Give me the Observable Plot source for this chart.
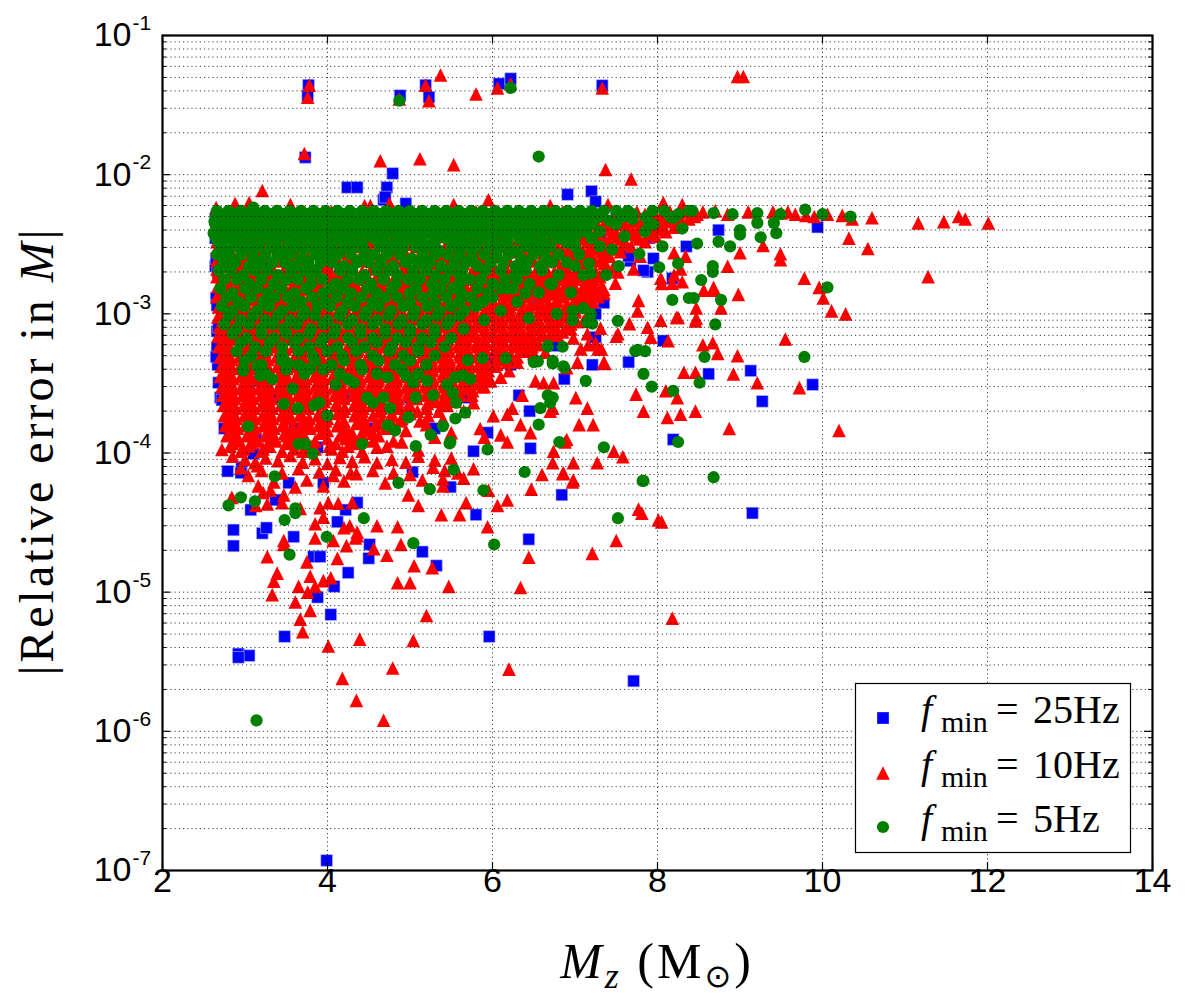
<!DOCTYPE html>
<html><head><meta charset="utf-8">
<script src="https://cdn.jsdelivr.net/npm/d3@7"></script>
<script src="https://cdn.jsdelivr.net/npm/@observablehq/plot@0.6"></script>
<style>body{margin:0;background:#fff}#chart{position:relative;width:1200px;height:1000px}</style>
</head><body><div id="chart"></div>
<script>
// ---- axis ticks ----
const xTicks = [2, 4, 6, 8, 10, 12, 14];
const xGridTicks = [4, 6, 8, 10, 12];
const yMajorTicks = [1e-7, 1e-6, 1e-5, 1e-4, 1e-3, 1e-2, 1e-1];
const yTickExponents = ["-7", "-6", "-5", "-4", "-3", "-2", "-1"];
const minorMantissas = [2, 3, 4, 5, 6, 7, 8, 9];
const legendLabels = ["25Hz", "10Hz", "5Hz"];

// ---- f_min = 25Hz (blue squares) ----
const blueRows = [
  [5.0e-3, [2.65, 3.3, 4.0, 4.7, 5.4, 6.1, 6.8, 7.5, 8.1]],
  [3.5e-3, [2.66, 3.5, 4.3, 5.1, 5.9, 6.6, 7.3, 7.9]],
  [2.2e-3, [2.64, 3.2, 4.0, 4.8, 5.6, 6.4, 7.1]],
  [1.3e-3, [2.65, 3.4, 4.2, 5.0, 5.8, 6.6]],
  [7.5e-4, [2.66, 3.3, 4.1, 4.9, 5.7, 6.3]],
  [4.3e-4, [2.67, 3.5, 4.4, 5.2, 6.0]],
  [2.5e-4, [2.7, 3.4, 4.2, 5.0, 5.7]],
  [1.5e-4, [2.75, 3.6, 4.5, 5.3]]
];
const blueSparse = [
  [2.64,4.8e-3],[2.64,3.5e-3],[2.65,2.5e-3],[2.67,2.0e-3],[2.66,1.15e-3],[2.68,8e-4],[2.66,5.7e-4],[2.65,4.9e-4],
  [2.68,3.2e-4],[2.72,2.4e-4],[3.07,1.45e-4],[3.13,1.23e-4],[3.88,1.1e-4],[3.18,3.3e-4],
  [3.77,4.4e-2],[3.76,3.7e-2],[3.73,1.33e-2],[4.88,3.7e-2],[5.19,4.4e-2],[5.23,3.6e-2],[6.08,4.5e-2],[6.22,4.9e-2],
  [7.33,4.37e-2],[4.24,8.1e-3],[4.36,8.1e-3],[4.79,1.02e-2],[4.72,8.1e-3],[4.68,6.6e-3],[4.95,6.2e-3],[4.7,6.9e-3],
  [6.91,7.2e-3],[7.2,7.6e-3],[7.25,6.4e-3],[9.94,4.2e-3],[8.35,3.05e-3],
  [7.67,2.4e-3],[7.95,2.5e-3],[8.74,4.0e-3],[7.88,2.0e-3],[7.83,2.05e-3],[8.18,1.8e-3],[7.18,1.55e-3],[7.35,1.2e-3],
  [7.25,1.0e-3],[7.25,6.8e-4],[8.07,6.4e-4],[7.65,4.5e-4],[7.21,4.3e-4],[8.62,3.7e-4],[9.13,3.9e-4],[9.88,3.1e-4],
  [9.27,2.35e-4],[8.19,1.25e-4],[6.87,3.4e-4],[6.79,5.9e-4],[9.15,3.7e-5],[6.32,2.6e-4],[6.45,2.0e-4],[5.94,1.4e-4],
  [6.88,1.42e-3],[7.15,1.65e-3],[6.56,1.15e-3],[6.44,6.2e-4],[6.22,4.3e-4],[6.0,4.8e-4],[7.65,2.6e-3],
  [2.79,7.4e-5],[2.96,7.9e-5],[2.95,7.2e-5],[2.86,2.8e-5],[2.86,2.15e-5],[3.21,2.65e-5],[3.26,2.9e-5],[3.59,2.5e-5],
  [3.83,1.8e-5],[3.91,1.8e-5],[4.25,1.38e-5],[4.08,1.1e-5],[4.04,6.9e-6],[3.48,4.8e-6],[2.92,3.6e-6],[3.05,3.5e-6],
  [2.92,3.4e-6],[5.96,4.8e-6],[7.71,2.3e-6],[6.44,2.4e-5],[6.84,5.0e-5],[5.8,3.6e-5],[5.15,1.95e-5],[5.32,1.55e-5],
  [4.5,1.75e-5],[4.51,2.2e-5],[3.88,9.2e-6],[4.36,4.4e-5],[4.22,3.9e-5],[4.12,3.2e-5],[3.1,9.9e-5],[3.07,3.9e-5],
  [3.37,4.6e-5],[3.53,6.1e-5],[3.95,6.1e-5],[5.03,7.3e-5],[6.46,1.08e-4],[5.49,5.7e-5],[5.77,1.03e-4],[3.99,1.18e-7]
];

// ---- f_min = 10Hz (red triangles) ----
const redRows = [
  [5.4e-3, [2.68,3.0,3.35,3.7,4.05,4.4,4.75,5.1,5.45,5.8,6.15,6.5,6.85,7.2,7.5,7.75,7.95,8.15,8.35,8.55]],
  [5.2e-3, [2.84,3.18,3.52,3.88,4.22,4.58,4.92,5.28,5.62,5.98,6.32,6.68,7.02,7.35,7.62,7.85,8.05,8.25,8.48]],
  [5.0e-3, [2.72,2.85,3.2,3.55,3.9,4.25,4.6,4.95,5.3,5.65,6.0,6.35,6.7,7.05,7.35,7.6,7.85,8.05,8.25,8.45]],
  [4.8e-3, [2.66,3.02,3.38,3.72,4.08,4.42,4.78,5.12,5.48,5.82,6.18,6.52,6.88,7.2,7.48,7.72,7.95,8.18,8.38]],
  [4.6e-3, [2.66,3.05,3.4,3.75,4.1,4.45,4.8,5.15,5.5,5.85,6.2,6.55,6.9,7.25,7.5,7.7,7.9,8.1,8.3]],
  [4.4e-3, [2.85,3.22,3.58,3.92,4.28,4.62,4.98,5.32,5.68,6.02,6.38,6.72,7.05,7.35,7.58,7.8,8.02,8.25]],
  [4.2e-3, [2.7,2.9,3.25,3.6,3.95,4.3,4.65,5.0,5.35,5.7,6.05,6.4,6.75,7.1,7.4,7.62,7.82,8.0,8.2]],
  [4.05e-3, [2.67,3.0,3.35,3.7,4.05,4.4,4.75,5.1,5.45,5.8,6.15,6.5,6.85,7.15,7.38,7.6,7.82,8.05]],
  [3.9e-3, [2.67,3.1,3.45,3.8,4.15,4.5,4.85,5.2,5.55,5.9,6.25,6.6,6.95,7.25,7.48,7.7,7.92,8.1]],
  [3.75e-3, [2.88,3.2,3.55,3.9,4.25,4.6,4.95,5.3,5.65,6.0,6.35,6.7,7.0,7.25,7.45,7.65,7.88]],
  [3.6e-3, [2.71,2.95,3.3,3.65,4.0,4.35,4.7,5.05,5.4,5.75,6.1,6.45,6.8,7.05,7.3,7.52,7.75,7.98]],
  [3.45e-3, [2.68,3.05,3.4,3.75,4.1,4.45,4.8,5.15,5.5,5.85,6.2,6.55,6.85,7.1,7.32,7.55,7.78]],
  [3.3e-3, [2.66,3.15,3.5,3.85,4.2,4.55,4.9,5.25,5.6,5.95,6.3,6.62,6.9,7.15,7.38,7.6,7.85]],
  [3.17e-3, [2.86,3.22,3.58,3.92,4.28,4.62,4.98,5.32,5.68,6.02,6.38,6.7,6.95,7.2,7.42,7.62]],
  [3.05e-3, [2.69,2.98,3.33,3.68,4.03,4.38,4.73,5.08,5.43,5.78,6.13,6.48,6.75,7.0,7.22,7.45,7.68]],
  [2.92e-3, [2.66,3.05,3.4,3.75,4.1,4.45,4.8,5.15,5.5,5.85,6.2,6.52,6.8,7.05,7.28,7.5]],
  [2.8e-3, [2.67,3.12,3.47,3.82,4.17,4.52,4.87,5.22,5.57,5.92,6.27,6.58,6.85,7.1,7.32,7.55]],
  [2.7e-3, [2.85,3.2,3.55,3.9,4.25,4.6,4.95,5.3,5.65,6.0,6.35,6.62,6.9,7.15,7.38]],
  [2.6e-3, [2.72,2.92,3.27,3.62,3.97,4.32,4.67,5.02,5.37,5.72,6.07,6.4,6.68,6.95,7.18,7.42]],
  [2.5e-3, [2.67,3.02,3.38,3.72,4.08,4.42,4.78,5.12,5.48,5.82,6.15,6.45,6.72,7.0,7.22]],
  [2.4e-3, [2.66,3.08,3.43,3.78,4.13,4.48,4.83,5.18,5.53,5.88,6.2,6.5,6.78,7.05,7.3]],
  [2.3e-3, [2.84,3.2,3.55,3.9,4.25,4.6,4.95,5.3,5.65,6.0,6.3,6.6,6.85,7.12,7.35]],
  [2.2e-3, [2.7,2.96,3.2,3.5,3.75,4.0,4.3,4.55,4.8,5.1,5.35,5.6,5.9,6.15,6.38,6.62,6.88,7.12,7.38]],
  [2.1e-3, [2.66,2.95,3.22,3.48,3.75,4.02,4.28,4.55,4.82,5.08,5.35,5.62,5.88,6.15,6.4,6.65,6.9,7.15,7.4]],
  [2.0e-3, [2.68,2.85,3.08,3.35,3.62,3.88,4.15,4.42,4.68,4.95,5.22,5.48,5.75,6.02,6.28,6.52,6.75,7.0,7.25]],
  [1.92e-3, [2.71,2.93,3.15,3.37,3.59,3.81,4.03,4.25,4.47,4.69,4.91,5.13,5.35,5.57,5.79,6.01,6.23,6.45,6.67,6.89,7.11]],
  [1.85e-3, [2.66,2.86,3.1,3.3,3.55,3.74,3.97,4.2,4.4,4.63,4.85,5.06,5.3,5.5,5.73,5.95,6.17,6.38,6.6,6.83,7.05,7.3]],
  [1.77e-3, [2.82,3.04,3.26,3.48,3.7,3.92,4.14,4.36,4.58,4.8,5.02,5.24,5.46,5.68,5.9,6.12,6.34,6.56,6.78,7.0,7.22]],
  [1.7e-3, [2.76,2.98,3.2,3.42,3.64,3.86,4.08,4.3,4.52,4.74,4.96,5.18,5.4,5.62,5.84,6.06,6.28,6.5,6.72,6.94,7.18]],
  [1.63e-3, [2.72,2.95,3.17,3.39,3.61,3.83,4.05,4.27,4.49,4.71,4.93,5.15,5.37,5.59,5.81,6.03,6.25,6.47,6.69,6.91,7.13]],
  [1.57e-3, [2.67,2.9,3.13,3.33,3.57,3.77,4.01,4.21,4.45,4.65,4.89,5.09,5.33,5.53,5.77,5.97,6.21,6.41,6.63,6.87,7.1,7.32]],
  [1.51e-3, [2.83,3.05,3.27,3.49,3.71,3.93,4.15,4.37,4.59,4.81,5.03,5.25,5.47,5.69,5.91,6.13,6.35,6.57,6.79,7.01,7.25]],
  [1.45e-3, [2.78,3.0,3.22,3.45,3.66,3.88,4.11,4.32,4.54,4.77,4.98,5.2,5.43,5.64,5.86,6.09,6.3,6.52,6.75,6.97,7.2]],
  [1.39e-3, [2.71,2.94,3.16,3.38,3.6,3.82,4.04,4.26,4.48,4.7,4.92,5.14,5.36,5.58,5.8,6.02,6.24,6.46,6.68,6.9,7.12]],
  [1.33e-3, [2.66,2.88,3.11,3.34,3.55,3.78,3.99,4.22,4.43,4.66,4.87,5.1,5.31,5.54,5.75,5.98,6.19,6.42,6.64,6.86,7.08,7.28]],
  [1.27e-3, [2.82,3.04,3.26,3.48,3.7,3.92,4.14,4.36,4.58,4.8,5.02,5.24,5.46,5.68,5.9,6.12,6.34,6.56,6.78,7.0,7.2]],
  [1.22e-3, [2.75,2.99,3.21,3.44,3.66,3.89,4.1,4.33,4.55,4.78,4.99,5.22,5.44,5.67,5.88,6.11,6.33,6.55,6.78,6.99,7.22]],
  [1.17e-3, [2.72,2.94,3.16,3.38,3.6,3.82,4.04,4.26,4.48,4.7,4.92,5.14,5.36,5.58,5.8,6.02,6.24,6.46,6.68,6.9]],
  [1.12e-3, [2.68,2.9,3.12,3.33,3.56,3.77,4.0,4.21,4.44,4.66,4.88,5.11,5.32,5.55,5.77,5.99,6.21,6.44,6.66,6.9,7.05]],
  [1.07e-3, [2.83,3.05,3.27,3.49,3.71,3.93,4.15,4.37,4.59,4.81,5.03,5.25,5.47,5.69,5.91,6.13,6.35,6.57,6.79,7.0]],
  [1.03e-3, [2.77,3.0,3.23,3.45,3.67,3.9,4.12,4.34,4.57,4.79,5.01,5.23,5.46,5.68,5.9,6.12,6.35,6.57,6.8,7.0]],
  [9.9e-4, [2.71,2.93,3.15,3.37,3.59,3.81,4.03,4.25,4.47,4.69,4.91,5.13,5.35,5.57,5.79,6.01,6.23,6.45,6.67,6.88]],
  [9.5e-4, [2.67,2.89,3.11,3.34,3.56,3.79,4.01,4.23,4.45,4.68,4.9,5.12,5.34,5.57,5.79,6.01,6.24,6.46,6.69,6.92]],
  [9.1e-4, [2.82,3.04,3.26,3.48,3.7,3.92,4.14,4.36,4.58,4.8,5.02,5.24,5.46,5.68,5.9,6.12,6.34,6.56,6.8]],
  [8.8e-4, [2.76,2.98,3.21,3.43,3.66,3.88,4.1,4.33,4.55,4.77,4.99,5.22,5.44,5.66,5.89,6.11,6.33,6.56,6.78,7.02]],
  [8.45e-4, [2.72,2.94,3.16,3.38,3.6,3.82,4.04,4.26,4.48,4.7,4.92,5.14,5.36,5.58,5.8,6.02,6.24,6.46,6.68,6.95]],
  [8.1e-4, [2.69,2.91,3.13,3.36,3.58,3.8,4.03,4.25,4.47,4.7,4.92,5.14,5.37,5.59,5.81,6.04,6.26,6.48,6.7,6.9]],
  [7.75e-4, [2.83,3.05,3.27,3.49,3.71,3.93,4.15,4.37,4.59,4.81,5.03,5.25,5.47,5.69,5.91,6.13,6.35,6.57,6.78]],
  [7.4e-4, [2.78,3.01,3.23,3.46,3.68,3.9,4.13,4.35,4.57,4.8,5.02,5.25,5.47,5.69,5.92,6.14,6.36,6.6,6.85]],
  [7.15e-4, [2.71,2.93,3.15,3.37,3.59,3.81,4.03,4.25,4.47,4.69,4.91,5.13,5.35,5.57,5.79,6.01,6.23,6.45,6.7]],
  [6.9e-4, [2.67,2.9,3.12,3.35,3.57,3.79,4.02,4.24,4.46,4.69,4.91,5.13,5.36,5.58,5.8,6.03,6.25,6.47]],
  [6.6e-4, [2.82,3.04,3.26,3.48,3.7,3.92,4.14,4.36,4.58,4.8,5.02,5.24,5.46,5.68,5.9,6.12,6.34,6.5]],
  [6.3e-4, [2.77,2.99,3.22,3.44,3.67,3.89,4.11,4.34,4.56,4.78,5.01,5.23,5.45,5.68,5.9,6.12,6.35,6.55]],
  [6.05e-4, [2.72,2.94,3.16,3.38,3.6,3.82,4.04,4.26,4.48,4.7,4.92,5.14,5.36,5.58,5.8,6.02,6.24,6.42]],
  [5.8e-4, [2.68,2.92,3.14,3.37,3.59,3.81,4.04,4.26,4.48,4.71,4.93,5.15,5.38,5.6,5.82,6.05,6.27,6.48]],
  [5.6e-4, [2.83,3.05,3.27,3.49,3.71,3.93,4.15,4.37,4.59,4.81,5.03,5.25,5.47,5.69,5.91,6.13,6.35]],
  [5.4e-4, [2.79,3.02,3.24,3.46,3.69,3.91,4.13,4.36,4.58,4.8,5.03,5.25,5.47,5.7,5.92,6.14,6.4]],
  [5.15e-4, [2.74,2.96,3.18,3.4,3.62,3.84,4.06,4.28,4.5,4.72,4.94,5.16,5.38,5.6,5.82,6.04,6.22]],
  [4.9e-4, [2.7,2.93,3.15,3.38,3.6,3.82,4.05,4.27,4.49,4.72,4.94,5.16,5.39,5.61,5.83,6.06,6.3]],
  [4.7e-4, [2.84,3.06,3.28,3.5,3.72,3.94,4.16,4.38,4.6,4.82,5.04,5.26,5.48,5.7,5.92,6.12]],
  [4.5e-4, [2.8,3.03,3.25,3.47,3.7,3.92,4.14,4.37,4.59,4.81,5.04,5.26,5.48,5.71,5.93,6.18]],
  [4.35e-4, [2.75,2.97,3.19,3.41,3.63,3.85,4.07,4.29,4.51,4.73,4.95,5.17,5.39,5.61,5.83,6.05]],
  [4.2e-4, [2.71,2.94,3.16,3.39,3.61,3.83,4.06,4.28,4.5,4.73,4.95,5.17,5.4,5.62,5.84,6.02]],
  [4.05e-4, [2.85,3.07,3.29,3.51,3.73,3.95,4.17,4.39,4.61,4.83,5.05,5.27,5.49,5.71,5.93]],
  [3.9e-4, [2.79,3.03,3.26,3.48,3.71,3.93,4.15,4.38,4.6,4.82,5.05,5.27,5.49,5.72,5.95]],
  [3.72e-4, [2.76,2.98,3.2,3.42,3.64,3.86,4.08,4.3,4.52,4.74,4.96,5.18,5.4,5.62,5.84]],
  [3.55e-4, [2.7,2.95,3.17,3.4,3.62,3.84,4.07,4.29,4.51,4.74,4.96,5.18,5.41,5.63,5.86]],
  [3.42e-4, [2.86,3.08,3.3,3.52,3.74,3.96,4.18,4.4,4.62,4.84,5.06,5.28,5.5,5.72,5.92]],
  [3.3e-4, [2.81,3.04,3.27,3.49,3.72,3.94,4.16,4.39,4.61,4.83,5.06,5.28,5.5,5.75,5.98]],
  [3.15e-4, [2.77,2.99,3.21,3.43,3.65,3.87,4.09,4.31,4.53,4.75,4.97,5.19,5.41,5.63,5.85]],
  [3.0e-4, [2.72,2.96,3.18,3.41,3.63,3.85,4.08,4.3,4.52,4.75,4.97,5.19,5.42,5.64,5.88]],
  [2.9e-4, [2.87,3.09,3.31,3.53,3.75,3.97,4.19,4.41,4.63,4.85,5.07,5.29,5.51,5.7]],
  [2.8e-4, [2.82,3.05,3.28,3.5,3.73,3.95,4.17,4.4,4.62,4.84,5.07,5.29,5.52,5.76]],
  [2.7e-4, [2.78,3.0,3.22,3.44,3.66,3.88,4.1,4.32,4.54,4.76,4.98,5.2,5.42,5.6]],
  [2.6e-4, [2.73,2.97,3.19,3.42,3.64,3.86,4.09,4.31,4.53,4.76,4.98,5.2,5.43,5.62]],
  [2.47e-4, [2.88,3.1,3.32,3.54,3.76,3.98,4.2,4.42,4.64,4.86,5.08,5.3,5.5]],
  [2.35e-4, [2.83,3.06,3.29,3.51,3.74,3.96,4.41,4.63,4.85,5.3,5.55]],
  [2.27e-4, [2.79,3.01,3.23,3.45,3.67,3.89,4.11,4.33,4.55,4.77,4.99,5.21,5.4]],
  [2.2e-4, [2.74,2.98,3.2,3.43,3.65,4.1,4.32,4.54,4.77,4.99,5.45]],
  [2.1e-4, [2.89,3.11,3.33,3.55,3.77,4.21,4.43,4.65,4.87,5.2]],
  [2.0e-4, [2.84,3.07,3.3,3.52,3.97,4.19,4.42,4.64,5.09,5.35]],
  [1.92e-4, [2.8,3.02,3.24,3.46,3.68,3.9,4.12,4.34,4.78,5.0]],
  [1.85e-4, [2.75,2.99,3.21,3.44,3.66,3.88,4.33,4.55,4.78,5.22]],
  [1.77e-4, [2.9,3.12,3.34,3.56,3.78,4.0,4.44,4.66,4.9]],
  [1.7e-4, [2.85,3.08,3.31,3.76,3.98,4.2,4.43,4.88,5.12]],
  [1.63e-4, [2.81,3.03,3.25,3.47,3.69,3.91,4.13,4.35,4.6]],
  [1.57e-4, [2.76,3.0,3.22,3.45,3.67,3.89,4.12,4.57,4.8]],
  [1.51e-4, [2.91,3.13,3.35,3.57,3.79,4.23,4.45,4.7]],
  [1.45e-4, [2.86,3.09,3.32,3.6,4.0,4.22,4.5,4.95]],
  [1.39e-4, [2.82,3.04,3.26,3.48,3.7,3.92,4.3,4.55]],
  [1.33e-4, [2.78,3.02,3.25,3.5,3.72,4.15,4.4,4.62]],
  [1.27e-4, [2.92,3.14,3.36,3.58,4.0,4.22,4.44]],
  [1.22e-4, [2.9,3.15,3.38,3.62,3.85,4.3,4.55,4.8]],
  [1.17e-4, [2.85,3.08,3.28,3.5,3.72,4.1,4.35]],
  [1.12e-4, [2.82,3.05,3.3,3.8,4.02,4.25,4.72]],
  [1.07e-4, [2.98,3.22,3.6,3.85,4.05]],
  [1.03e-4, [2.95,3.2,3.45,3.7,4.18,4.42]]
];
const redSparse = [
  [3.78,4.4e-2],[3.76,3.6e-2],[3.72,1.42e-2],[3.21,7.7e-3],[4.87,3.5e-2],[5.37,5.2e-2],[5.19,4.4e-2],[5.23,3.4e-2],
  [5.8,3.8e-2],[4.64,1.26e-2],[5.12,1.3e-2],[5.53,1.18e-2],[5.95,6.6e-3],[6.06,4.2e-2],[6.22,4.5e-2],[7.33,4.2e-2],
  [8.97,5.07e-2],[9.04,5.07e-2],[7.37,1.09e-2],[7.68,9.3e-3],[8.07,6.3e-3],
  [2.65,5.8e-3],[2.88,6.2e-3],[3.05,6.3e-3],[3.55,6.1e-3],[4.45,6.0e-3],[4.52,6.0e-3],[4.75,6.2e-3],[5.53,6.1e-3],
  [6.7,6.0e-3],[7.4,6.1e-3],[8.3,6.1e-3],
  [10.6,4.9e-3],[11.16,4.5e-3],[11.47,4.6e-3],[11.65,5.0e-3],[11.73,4.8e-3],[12.01,4.5e-3],[11.28,1.85e-3],
  [10.24,5.1e-3],[10.36,4.8e-3],[10.32,3.5e-3],[10.55,2.95e-3],[10.06,5.2e-3],[9.9,5.0e-3],[9.8,5.1e-3],[9.67,5.2e-3],
  [9.49,2.7e-3],[9.49,2.45e-3],[9.78,1.8e-3],[9.96,1.55e-3],[10.01,1.3e-3],[10.11,1.05e-3],[10.28,1.0e-3],[9.55,6.6e-4],
  [9.72,2.95e-4],[10.2,1.45e-4],[8.87,1.5e-4],[9.21,3.2e-4],[8.97,5.0e-4],[8.92,3.7e-4],[9.4,5.4e-3],[9.5,5.3e-3],
  [9.58,5.4e-3],[8.7,5.5e-3],[8.85,5.2e-3],[9.1,5.4e-3],[9.28,3.1e-3],[9.0,2.75e-3],[8.85,2.2e-3],[8.68,1.48e-3],
  [8.77,1.1e-3],[8.47,1.1e-3],[8.47,9.3e-4],[8.3,1.7e-3],[8.05,1.65e-3],[8.25,9.4e-4],[8.04,9.0e-4],[8.13,6.4e-4],
  [7.77,1.25e-3],[7.76,1.05e-3],[7.88,8.0e-4],[7.92,6.8e-4],[7.66,8.5e-4],[7.52,7.2e-4],[8.55,6.0e-4],[8.67,6.2e-4],
  [8.73,5.2e-4],[8.32,3.8e-4],[8.46,3.8e-4],[8.1,2.8e-4],[8.24,2.5e-4],[7.74,2.65e-4],[7.83,2.0e-4],[8.12,1.8e-4],
  [8.28,1.9e-4],[8.46,2.0e-4],[7.01,2.5e-4],[7.15,2.1e-4],[7.05,1.6e-4],[7.22,1.6e-4],[6.88,1.2e-4],
  [8.98,1.38e-3],[8.56,1.48e-3],[8.68,1.55e-3],[8.23,9.4e-4],[8.46,8.9e-4],[8.18,1.66e-3],[7.49,1.66e-3],[7.35,1.4e-3],
  [7.32,5.6e-4],[7.16,6.0e-4],[7.07,5.6e-4],[7.35,4.5e-4],[7.03,4.5e-4],[6.9,4.1e-4],[6.74,3.2e-4],[6.62,3.2e-4],
  [6.52,3.3e-4],[6.73,2.1e-4],[6.7,2.0e-4],[6.36,2.6e-4],[6.24,2.1e-4],[6.18,1.9e-4],[6.34,1.6e-4],[6.46,1.4e-4],
  [6.1,1.35e-4],[6.18,1.2e-4],[5.85,1.5e-4],[5.9,1.3e-4],[6.01,1.85e-4],[5.77,2.3e-4],[6.9,1.25e-4],[6.64,5.3e-4],
  [6.5,5.2e-4],[6.79,7.0e-4],[6.98,6.7e-4],[7.15,7.2e-4],[7.31,7.9e-4],[7.5,6.9e-4],[7.28,5.6e-4],[7.36,4.4e-4],
  [7.25,6.2e-4],[7.35,1.5e-3],[7.52,2.0e-3],[7.47,2.2e-3],[7.71,2.1e-3],[7.79,2.6e-3],[8.04,1.8e-3],[8.2,1.9e-3],
  [8.28,2.1e-3],[8.34,2.6e-3],[8.2,2.75e-3],
  [6.74,1.03e-4],[6.73,8.5e-5],[6.98,8.5e-5],[7.27,8.5e-5],[7.47,1.03e-4],[7.58,9.4e-5],[6.85,7.1e-5],[6.97,6.2e-5],
  [6.6,7.0e-5],[7.81,3.7e-5],[8.05,3.2e-5],[8.18,6.5e-6],
  [2.72,1.06e-4],[3.33,9.6e-6],[3.27,1.8e-5],[3.39,1.37e-5],[3.35,1.2e-5],[3.47,2.35e-5],[3.47,2.2e-5],[3.61,8.5e-6],
  [3.67,6.4e-6],[3.7,5.2e-6],[3.79,7.4e-6],[3.65,1.1e-5],[3.76,1.0e-5],[3.79,1.3e-5],[3.95,1.21e-5],[4.04,1.27e-5],
  [3.85,1.1e-5],[3.75,1.65e-5],[4.01,4.1e-6],[4.18,2.4e-6],[4.35,1.67e-6],[4.68,1.2e-6],[4.39,4.6e-6],[4.79,2.85e-6],
  [5.04,4.5e-6],[5.2,6.8e-6],[6.2,2.8e-6],[4.85,1.17e-5],[5.0,1.17e-5],[5.27,1.5e-5],[5.47,1.1e-5],[6.34,1.08e-5],
  [5.05,1.55e-5],[4.6,3.0e-5],[4.85,2.95e-5],[4.89,2.2e-5],[4.72,1.84e-5],[4.56,2.05e-5],[4.23,2.16e-5],[4.12,1.75e-5],
  [4.34,2.45e-5],[4.2,2.9e-5],[4.27,3.0e-5],[4.07,2.35e-5],[3.85,2.45e-5],[3.85,3.1e-5],[3.91,4.05e-5],[3.95,3.45e-5],
  [4.01,4.4e-5],[4.13,4.35e-5],[4.3,4.4e-5],[5.38,3.6e-5],[5.6,3.6e-5],[5.68,4.4e-5],[5.94,2.95e-5],[6.06,4.2e-5],
  [6.18,4.6e-5],[6.44,1.78e-5],[7.21,1.9e-5],[7.5,2.35e-5],[7.77,3.95e-5],[8.01,3.3e-5],[6.47,5.5e-5],[6.86,7.2e-5],
  [6.98,6.4e-5],[5.77,7.7e-5],[5.95,5.4e-5],[5.4,5.8e-5],[5.4,6.5e-5],[5.42,7.5e-5],[5.58,7.2e-5],[4.98,5.0e-5],
  [5.1,4.2e-5],[5.28,7.9e-5],[4.07,6.9e-5],[3.95,5.8e-5],[4.28,7.2e-5],[3.61,5.7e-5],[3.47,5.0e-5],[3.31,5.4e-5],
  [3.22,5.2e-5],[3.16,5.8e-5],[3.04,6.9e-5],[3.15,8.1e-5],[2.84,4.8e-5],[3.13,4.2e-5],[3.27,4.3e-5],[3.45,4.4e-5],
  [3.67,4.0e-5],[4.36,2.55e-5],[4.36,2.7e-5],
  [2.85,9.5e-5],[3.0,9.0e-5],[3.12,8.5e-5],[3.25,9.2e-5],[3.4,8.8e-5],[3.55,9.6e-5],[3.7,8.6e-5],[3.85,9.1e-5],
  [4.0,8.4e-5],[4.15,9.3e-5],[4.3,8.7e-5],[4.45,9.4e-5],[4.6,8.5e-5],[4.78,9.0e-5],[4.95,8.6e-5],[5.1,9.5e-5],
  [5.3,8.9e-5],[5.5,9.2e-5],[2.95,7.8e-5],[3.2,7.5e-5],[3.45,7.2e-5],[3.65,7.7e-5],[3.9,7.3e-5],[4.1,7.6e-5],
  [4.35,7.1e-5],[4.55,7.5e-5],[4.8,7.2e-5],[5.0,7.0e-5],[3.35,6.2e-5],[3.75,6.4e-5],[4.2,6.3e-5],[4.7,6.1e-5],
  [5.15,6.4e-5],[5.65,6.6e-5],[4.6,1.1e-4],[4.9,1.2e-4],[5.1,1.05e-4],[5.3,1.3e-4],[5.5,1.4e-4],[5.2,1.6e-4],
  [5.4,1.75e-4],[5.65,2.0e-4],[5.75,2.6e-4],[5.9,3.0e-4],[6.1,3.5e-4],[6.2,3.9e-4],[6.3,4.5e-4],[6.55,6.0e-4],
  [6.6,7.0e-4],[6.95,7.8e-4],[7.1,8.8e-4],[7.15,9.8e-4]
];

// ---- f_min = 5Hz (green circles) ----
const greenRows = [
  [5.5e-3, [2.66,2.8,2.95,3.1,3.24,3.39,3.54,3.68,3.83,3.98,4.12,4.27,4.42,4.56,4.71,4.86,5.0,5.15,5.3,5.44,5.59,5.74,5.88,6.03,6.18,6.32,6.47,6.62,6.76,6.91,7.06,7.2,7.35,7.5,7.64,7.94,8.08,8.38]],
  [5.2e-3, [2.7,2.87,3.02,3.17,3.31,3.46,3.61,3.76,3.9,4.05,4.2,4.34,4.49,4.64,4.78,4.93,5.08,5.22,5.37,5.52,5.66,5.81,5.96,6.1,6.25,6.4,6.54,6.69,6.84,6.98,7.13,7.3,7.7,8.25]],
  [4.95e-3, [2.73,2.88,3.02,3.17,3.32,3.46,3.61,3.76,3.9,4.05,4.2,4.34,4.49,4.64,4.78,4.93,5.08,5.22,5.37,5.52,5.66,5.81,5.96,6.1,6.25,6.4,6.54,6.69,6.84,6.98,7.13,7.28,7.57,7.86,8.16]],
  [4.65e-3, [2.64,2.8,2.95,3.1,3.24,3.39,3.54,3.68,3.83,3.98,4.12,4.27,4.42,4.56,4.71,4.86,5.0,5.15,5.3,5.44,5.59,5.74,5.88,6.03,6.18,6.32,6.47,6.62,6.76,6.91,7.06,7.22,7.42]],
  [4.4e-3, [2.64,2.79,2.93,3.08,3.23,3.37,3.52,3.67,3.81,3.96,4.11,4.25,4.4,4.55,4.69,4.84,4.99,5.13,5.28,5.43,5.57,5.72,5.87,6.01,6.16,6.31,6.45,6.6,6.75,6.89,7.04,7.19,7.5,7.95]],
  [4.15e-3, [2.72,2.87,3.01,3.16,3.31,3.45,3.6,3.75,3.89,4.04,4.19,4.33,4.48,4.63,4.77,4.92,5.07,5.21,5.36,5.51,5.65,5.8,5.95,6.09,6.24,6.39,6.53,6.68,6.83,6.97,7.15]],
  [3.9e-3, [2.7,2.85,3.0,3.14,3.29,3.44,3.58,3.73,3.88,4.02,4.17,4.32,4.46,4.61,4.76,4.9,5.05,5.2,5.34,5.49,5.64,5.78,5.93,6.08,6.22,6.37,6.52,6.66,6.81,6.96,7.1,7.3,7.85]],
  [3.7e-3, [2.64,2.78,2.93,3.07,3.22,3.51,3.66,3.81,3.95,4.1,4.25,4.39,4.54,4.84,4.98,5.13,5.28,5.42,5.57,5.86,6.01,6.16,6.3,6.6,6.74,6.9]],
  [3.48e-3, [2.65,2.8,2.94,3.09,3.24,3.38,3.53,3.68,3.82,3.97,4.12,4.26,4.41,4.56,4.7,4.85,5.0,5.14,5.29,5.44,5.58,5.73,5.88,6.02,6.17,6.32,6.46,6.61,6.8,7.0,7.2]],
  [3.25e-3, [2.68,2.95,3.1,3.39,3.54,3.83,3.97,4.27,4.42,4.71,4.86,5.15,5.3,5.59,5.73,6.03,6.18,6.47,6.62,6.9]],
  [3.05e-3, [2.72,2.87,3.02,3.16,3.31,3.6,3.75,3.9,4.04,4.19,4.34,4.63,4.78,4.92,5.07,5.22,5.51,5.66,5.8,5.95,6.1,6.4,6.55,6.7,7.0,7.3]],
  [2.85e-3, [2.8,3.1,3.45,3.7,4.0,4.45,4.9,5.35,5.75,6.28,6.62]],
  [2.67e-3, [2.66,2.81,2.96,3.25,3.4,3.55,3.84,3.98,4.13,4.28,4.57,4.72,4.87,5.16,5.31,5.45,5.6,5.9,6.05,6.2,6.5,6.8,7.05]],
  [2.5e-3, [2.74,3.1,3.68,4.42,5.02,5.75,6.35,6.65]],
  [2.34e-3, [2.74,2.88,3.18,3.33,3.48,3.77,3.92,4.06,4.36,4.5,4.65,4.95,5.1,5.24,5.54,5.69,5.98,6.13,6.42,6.72,6.9]],
  [2.2e-3, [2.8,3.05,3.6,4.2,4.8,5.38,5.82,6.28,6.58,7.0]],
  [2.05e-3, [2.68,2.83,3.12,3.27,3.56,3.71,3.86,4.15,4.3,4.6,4.75,5.04,5.19,5.48,5.63,5.92,6.1,6.4,6.6]],
  [1.9e-3, [2.98,3.4,3.8,4.45,4.85,5.3,5.6,6.28,6.8,7.1]],
  [1.77e-3, [2.75,2.9,3.2,3.5,3.64,3.94,4.24,4.38,4.68,4.98,5.12,5.42,5.72,5.86,6.15,6.3]],
  [1.64e-3, [3.05,3.35,3.8,4.1,4.53,4.83,5.27,5.6,6.0,6.45,6.7]],
  [1.52e-3, [2.7,3.0,3.15,3.44,3.74,4.03,4.18,4.48,4.78,5.07,5.37,5.52,5.82,6.1,6.25]],
  [1.41e-3, [2.85,3.28,3.6,3.95,4.28,4.6,5.0,5.28,5.62,5.95,6.4]],
  [1.31e-3, [2.78,3.07,3.36,3.52,3.82,4.11,4.41,4.7,4.85,5.15,5.44,5.74,6.0]],
  [1.22e-3, [2.92,3.22,3.68,3.97,4.25,4.55,5.0,5.3,5.6,5.88,6.3]],
  [1.13e-3, [2.72,2.99,3.29,3.58,3.88,4.03,4.33,4.62,4.92,5.21,5.5,5.8]],
  [1.05e-3, [2.85,3.15,3.45,3.72,4.18,4.48,4.77,5.06,5.36,5.66,6.1]],
  [9.7e-4, [2.8,3.1,3.4,3.7,3.85,4.15,4.45,4.74,5.04,5.33,5.6]],
  [9.0e-4, [2.95,3.25,3.55,4.0,4.3,4.6,4.9,5.2,5.48,5.9]],
  [8.4e-4, [2.75,3.05,3.34,3.63,3.95,4.25,4.55,4.86,5.15,5.45]],
  [7.8e-4, [2.9,3.2,3.48,3.8,4.1,4.4,4.7,5.0,5.3,5.65]],
  [7.2e-4, [2.85,3.2,3.5,3.78,4.08,4.4,4.7,5.0,5.3]],
  [6.7e-4, [3.02,3.35,3.65,3.95,4.25,4.55,4.85,5.15,5.5]],
  [6.2e-4, [2.95,3.3,3.6,3.92,4.3,4.6,4.95,5.25]],
  [5.8e-4, [3.12,3.45,3.78,4.12,4.45,4.78,5.1,5.42]],
  [5.36e-4, [2.9,3.25,3.65,4.0,4.35,4.75,5.1]],
  [5.0e-4, [3.08,3.45,3.82,4.18,4.55,4.92,5.3]],
  [4.6e-4, [3.0,3.45,3.85,4.2,4.62,5.0]],
  [4.3e-4, [3.2,3.65,4.05,4.4,4.82,5.2]],
  [3.98e-4, [2.98,3.5,3.95,4.42,4.9]],
  [3.7e-4, [3.25,3.72,4.15,4.6,5.1]]
];
const greenSparse = [
  [4.87,3.4e-2],[6.22,4.2e-2],[6.56,1.35e-2],[3.1,5.8e-3],[2.62,3.8e-3],[2.63,4.6e-3],[2.65,5.0e-3],
  [10.06,1.55e-3],[9.78,4.9e-4],[8.25,1.2e-4],[8.68,6.7e-5],[7.83,6.3e-5],[7.35,1.1e-4],[6.81,1.2e-4],[8.19,2.8e-4],
  [8.51,3.2e-4],[7.83,3.7e-4],[7.93,3.0e-4],[7.13,3.3e-4],[8.57,4.9e-4],[8.7,8.4e-4],[8.77,1.26e-3],[8.18,1.26e-3],
  [8.38,1.3e-3],[8.44,1.3e-3],[8.53,1.75e-3],[8.67,2.2e-3],[8.67,2.0e-3],[8.25,2.3e-3],[8.06,3.05e-3],[7.78,2.7e-3],
  [7.53,2.2e-3],[7.38,1.9e-3],[7.19,1.95e-3],[7.17,2.3e-3],[7.52,8.9e-4],[7.73,5.4e-4],[7.85,5.4e-4],[7.76,5.5e-4],
  [6.67,5.9e-4],[6.85,5.8e-4],[6.73,4.6e-4],[6.86,4.2e-4],[6.67,2.6e-4],[6.73,2.5e-4],[6.58,2.1e-4],
  [9.0,4.0e-3],[9.0,3.7e-3],[8.74,3.3e-3],[8.88,3.05e-3],[9.25,3.55e-3],[9.44,3.8e-3],[9.41,4.5e-3],[9.49,5.2e-3],
  [9.79,5.6e-3],[10.0,5.2e-3],[10.34,5.0e-3],[9.21,5.3e-3],[9.21,4.5e-3],[8.91,5.2e-3],[8.68,5.3e-3],[8.42,5.5e-3],
  [8.3,4.1e-3],[8.48,3.2e-3],[8.02,2.16e-3],[7.7,4.8e-3],[7.9,4.4e-3],[8.2,4.9e-3],[7.6,3.6e-3],[7.45,2.9e-3],
  [2.8,4.2e-5],[2.95,4.8e-5],[3.12,4.5e-5],[3.36,6.8e-5],[3.48,3.3e-5],[3.61,4.0e-5],[3.61,3.7e-5],[3.54,1.86e-5],
  [3.99,2.5e-5],[4.44,3.4e-5],[4.86,6.1e-5],[5.24,5.5e-5],[5.53,7.6e-5],[5.89,5.4e-5],[5.04,2.25e-5],[6.02,2.2e-5],
  [5.94,1.06e-4],[6.39,7.3e-5],[7.52,3.4e-5],[7.82,6.3e-5],[3.14,1.2e-6],[3.82,9.9e-5],[3.65,1.16e-4],[3.73,1.16e-4],
  [4.42,1.16e-4],[5.07,1.12e-4],[5.48,1.17e-4],
  [2.98,3.9e-4],[3.19,3.6e-4],[3.33,3.4e-4],[3.52,4.4e-4],[3.67,4.2e-4],[3.79,4.05e-4],[3.58,2.9e-4],[3.47,2.25e-4],
  [3.64,2.1e-4],[3.84,2.2e-4],[3.9,2.3e-4],[4.0,1.86e-4],[4.48,2.5e-4],[4.55,2.3e-4],[4.68,2.5e-4],[4.76,2.1e-4],
  [4.73,1.58e-4],[4.82,1.45e-4],[4.98,1.8e-4],[5.07,2.5e-4],[5.28,2.6e-4],[5.25,1.35e-4],[5.49,1.2e-4],[3.04,1.55e-4],
  [4.1,3.1e-4],[4.25,3.4e-4],[4.32,3.2e-4],[4.73,3.5e-4],[4.95,3.6e-4],[5.04,3.2e-4],[5.21,3.3e-4],[5.55,3.5e-4],
  [3.15,4.2e-4],[6.56,1.6e-4],[5.4,1.56e-4],[5.55,1.77e-4],[5.67,1.95e-4],[5.56,2.3e-4],[5.52,2.7e-4],[5.45,3.1e-4],
  [5.73,3.4e-4],[5.64,3.6e-4],[6.7,2.3e-4],[6.87,4.1e-4],[6.73,4.4e-4],[6.55,4.55e-4],[6.5,4.5e-4],[6.67,5.8e-4],
  [6.56,1.42e-3],[6.95,1.42e-3],[6.72,1.63e-3],[6.18,1.52e-3],[7.1,1.1e-3],[7.19,1.0e-3],[6.97,1.05e-3],[6.97,9.0e-4],
  [6.44,9.3e-4],[6.78,1.0e-3],[7.15,8.7e-4],[7.21,8.5e-4],[5.88,4.8e-4],[6.16,4.8e-4],[5.7,4.65e-4]
];

const expand = rows => rows.flatMap(([y, xs]) => xs.map(x => ({x, y})));
const pairs = list => list.map(([x, y]) => ({x, y}));
const blueData = expand(blueRows).concat(pairs(blueSparse));
const redData = expand(redRows).concat(pairs(redSparse));
const greenData = expand(greenRows).concat(pairs(greenSparse));

const yMinorTicks = yMajorTicks.slice(0, -1).flatMap(t => minorMantissas.map(m => m * t));
const yGridTicks = yMajorTicks.slice(1, -1).concat(yMinorTicks);

// matplotlib '^' marker: isoceles triangle, width == height
const triangleUp = {draw(ctx, size) {
  const s = Math.sqrt(size / Math.PI);
  ctx.moveTo(0, -s); ctx.lineTo(s, s); ctx.lineTo(-s, s); ctx.closePath();
}};

const W = 1200, H = 1000, ML = 162, MR = 48, MT = 35, MB = 130;
const FW = W - ML - MR, FH = H - MT - MB;
const gridStyle = {stroke: "#000", strokeOpacity: 0.75, strokeWidth: 1, strokeDasharray: "1.2,3"};

const chart = Plot.plot({
  width: W, height: H, marginLeft: ML, marginRight: MR, marginTop: MT, marginBottom: MB,
  style: {fontFamily: "Liberation Sans", background: "white", color: "black"},
  x: {domain: [2, 14], axis: null},
  y: {type: "log", domain: [1e-7, 1e-1], axis: null},
  marks: [
    Plot.dot(blueData, {x: "x", y: "y", symbol: "square", r: 6.6, fill: "#0000ff", stroke: "#b8b8ff", strokeWidth: 0.6}),
    Plot.dot(redData, {x: "x", y: "y", symbol: triangleUp, r: 6.8, fill: "#ff0000"}),
    Plot.dot(greenData, {x: "x", y: "y", symbol: "circle", r: 6.1, fill: "#008000"}),
    Plot.ruleY(yGridTicks, {y: d => d, ...gridStyle}),
    Plot.ruleX(xGridTicks, {x: d => d, ...gridStyle}),
    Plot.tickY(yMajorTicks, {y: d => d, insetRight: FW - 8, stroke: "#000", strokeWidth: 1.2}),
    Plot.tickY(yMajorTicks, {y: d => d, insetLeft: FW - 8, stroke: "#000", strokeWidth: 1.2}),
    Plot.tickY(yMinorTicks, {y: d => d, insetRight: FW - 4, stroke: "#000"}),
    Plot.tickY(yMinorTicks, {y: d => d, insetLeft: FW - 4, stroke: "#000"}),
    Plot.tickX(xTicks, {x: d => d, insetTop: FH - 8, stroke: "#000", strokeWidth: 1.2}),
    Plot.tickX(xTicks, {x: d => d, insetBottom: FH - 8, stroke: "#000", strokeWidth: 1.2}),
    Plot.frame({stroke: "#000", strokeWidth: 2.2}),
    Plot.text(yMajorTicks, {y: d => d, text: () => "10", frameAnchor: "left", dx: -31, textAnchor: "end", fontSize: 34, fill: "#000"}),
    Plot.text(yMajorTicks, {y: d => d, text: (d, i) => yTickExponents[i], frameAnchor: "left", dx: -30, dy: -12, textAnchor: "start", fontSize: 21, fill: "#000"}),
    Plot.text(xTicks, {x: d => d, text: d => String(d), frameAnchor: "bottom", dy: 21, fontSize: 34, fill: "#000"})
  ]
});
document.getElementById("chart").appendChild(chart);

// ---- axis titles & legend (serif, math-like) ----
const svg = d3.select(chart);
const serif = "Liberation Serif";
const yt = svg.append("text").attr("transform", "translate(53,451) rotate(-90)")
  .attr("text-anchor", "middle").attr("font-family", serif).attr("font-size", 48)
  .attr("letter-spacing", 3).attr("fill", "#000");
yt.append("tspan").text("|Relative error in ");
yt.append("tspan").attr("font-style", "italic").text("M");
yt.append("tspan").text("|");

const xt = svg.append("text").attr("x", 657).attr("y", 978)
  .attr("text-anchor", "middle").attr("font-family", serif).attr("font-size", 50)
  .attr("letter-spacing", 3).attr("fill", "#000");
xt.append("tspan").attr("font-style", "italic").text("M");
xt.append("tspan").attr("font-style", "italic").attr("font-size", 36).attr("dy", 10).text("z");
xt.append("tspan").attr("dy", -10).text(" (M");
xt.append("tspan").attr("font-size", 32).attr("dy", 9).attr("font-family", "DejaVu Sans").text("\u2299");
xt.append("tspan").attr("dy", -9).text(")");

const lg = svg.append("g").attr("text-anchor", "start");
lg.append("rect").attr("x", 855.5).attr("y", 683.5).attr("width", 275).attr("height", 169)
  .attr("fill", "white").attr("stroke", "#000").attr("stroke-width", 1.2);
const rowsY = [718, 773, 827];
const symPaths = [
  d3.symbol(d3.symbolSquare, 6.6 * 6.6 * Math.PI)(),
  d3.symbol(triangleUp, 6.8 * 6.8 * Math.PI)(),
  d3.symbol(d3.symbolCircle, 6.1 * 6.1 * Math.PI)()
];
const symFill = ["#0000ff", "#ff0000", "#008000"];
legendLabels.forEach((lab, i) => {
  const cy = rowsY[i];
  lg.append("path").attr("d", symPaths[i]).attr("transform", `translate(883,${cy})`).attr("fill", symFill[i]);
  const t = lg.append("text").attr("y", cy + 5).attr("text-anchor", "start")
    .attr("font-family", serif).attr("font-size", 40).attr("fill", "#000");
  t.append("tspan").attr("x", 921).attr("font-style", "italic").text("f");
  t.append("tspan").attr("x", 941).attr("dy", 9).attr("font-size", 30).text("min");
  t.append("tspan").attr("x", 996).attr("dy", -9).text("=");
  t.append("tspan").attr("x", 1033).text(lab);
});
</script></body></html>
